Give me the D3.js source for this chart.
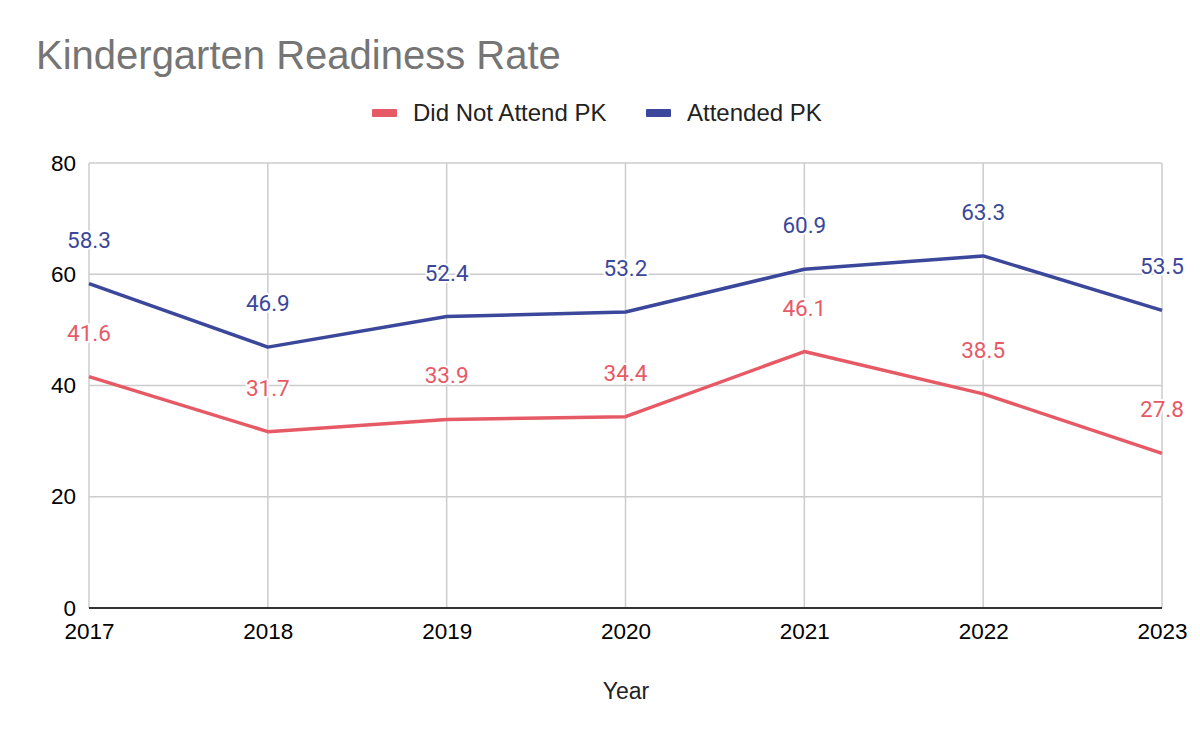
<!DOCTYPE html>
<html>
<head>
<meta charset="utf-8">
<script src="https://cdn.jsdelivr.net/npm/d3@7"></script>
<style>
  body { margin: 0; background: #fff; }
  svg { display: block; }
</style>
</head>
<body>
<div id="chart"></div>
<script>
// chart data
const years = ["2017", "2018", "2019", "2020", "2021", "2022", "2023"];
const didNotAttend = [41.6, 31.7, 33.9, 34.4, 46.1, 38.5, 27.8];
const attended = [58.3, 46.9, 52.4, 53.2, 60.9, 63.3, 53.5];
const yTicks = [0, 20, 40, 60, 80];
const seriesNames = ["Did Not Attend PK", "Attended PK"];

const width = 1200, height = 742;
const margin = {top: 163, right: 38, bottom: 134, left: 89};
const sansFont = '"Liberation Sans", Arial, sans-serif';

const svg = d3.select('#chart').append('svg')
    .attr('width', width)
    .attr('height', height);

const x = d3.scalePoint()
    .domain(years)
    .range([margin.left, width - margin.right]);

const y = d3.scaleLinear()
    .domain([0, 80])
    .range([height - margin.bottom, margin.top]);

const red = '#e65a66', blue = '#3a479b';

// title
svg.append('text')
    .attr('x', 36).attr('y', 69)
    .text('Kindergarten Readiness Rate')
    .style('font-family', sansFont)
    .style('font-size', '40px')
    .style('fill', '#757575');

// legend
const legendItems = [
    {name: seriesNames[0], color: red, x: 372},
    {name: seriesNames[1], color: blue, x: 646}
];
legendItems.forEach(d => {
    svg.append('rect')
        .attr('x', d.x).attr('y', 109)
        .attr('width', 25).attr('height', 8)
        .attr('rx', 1)
        .style('fill', d.color);
    svg.append('text')
        .attr('x', d.x + 41).attr('y', 121)
        .text(d.name)
        .style('font-family', sansFont)
        .style('font-size', '24px')
        .style('fill', '#222');
});

// horizontal gridlines
svg.append('g')
    .selectAll('line')
    .data(yTicks.filter(t => t > 0))
    .enter().append('line')
    .attr('x1', margin.left).attr('x2', width - margin.right)
    .attr('y1', d => y(d)).attr('y2', d => y(d))
    .style('stroke', '#cccccc').style('stroke-width', 1.5);

// vertical gridlines
svg.append('g')
    .selectAll('line')
    .data(years)
    .enter().append('line')
    .attr('x1', d => x(d)).attr('x2', d => x(d))
    .attr('y1', margin.top).attr('y2', y(0))
    .style('stroke', '#cccccc').style('stroke-width', 1.5);

// y axis labels
const yAxis = d3.axisLeft(y).tickValues(yTicks).tickSize(0).tickPadding(13);
const gy = svg.append('g')
    .attr('transform', `translate(${margin.left},0)`)
    .call(yAxis);
gy.select('.domain').remove();
gy.selectAll('text')
    .style('font-family', sansFont)
    .style('font-size', '22.5px')
    .style('fill', '#000');

// x axis labels
const xAxis = d3.axisBottom(x).tickSize(0).tickPadding(15);
const gx = svg.append('g')
    .attr('transform', `translate(0,${y(0)})`)
    .call(xAxis);
gx.select('.domain').remove();
gx.selectAll('text')
    .style('font-family', sansFont)
    .style('font-size', '22.5px')
    .style('fill', '#000');

// baseline
svg.append('line')
    .attr('x1', margin.left).attr('x2', width - margin.right)
    .attr('y1', y(0)).attr('y2', y(0))
    .style('stroke', '#333').style('stroke-width', 2);

// x axis title
svg.append('text')
    .attr('x', 626).attr('y', 699)
    .attr('text-anchor', 'middle')
    .text('Year')
    .style('font-family', sansFont)
    .style('font-size', '23px')
    .style('fill', '#222');

// lines + labels
const series = [
    {values: didNotAttend, color: red},
    {values: attended, color: blue}
];

const line = d3.line()
    .x((d, i) => x(years[i]))
    .y(d => y(d));

series.forEach(s => {
    svg.append('path')
        .datum(s.values)
        .attr('d', line)
        .style('fill', 'none')
        .style('stroke', s.color)
        .style('stroke-width', 3.5)
        .style('stroke-linejoin', 'round');
});

series.forEach(s => {
    svg.append('g')
        .selectAll('text')
        .data(s.values)
        .enter().append('text')
        .attr('x', (d, i) => x(years[i]))
        .attr('y', d => y(d) - 36)
        .attr('text-anchor', 'middle')
        .text(d => d.toFixed(1))
        .style('font-family', 'Roboto, sans-serif')
        .style('font-size', '22.5px')
        .style('fill', s.color)
        .style('stroke', '#fff')
        .style('stroke-width', 4)
        .style('paint-order', 'stroke')
        .style('stroke-linejoin', 'round');
});
</script>
</body>
</html>
